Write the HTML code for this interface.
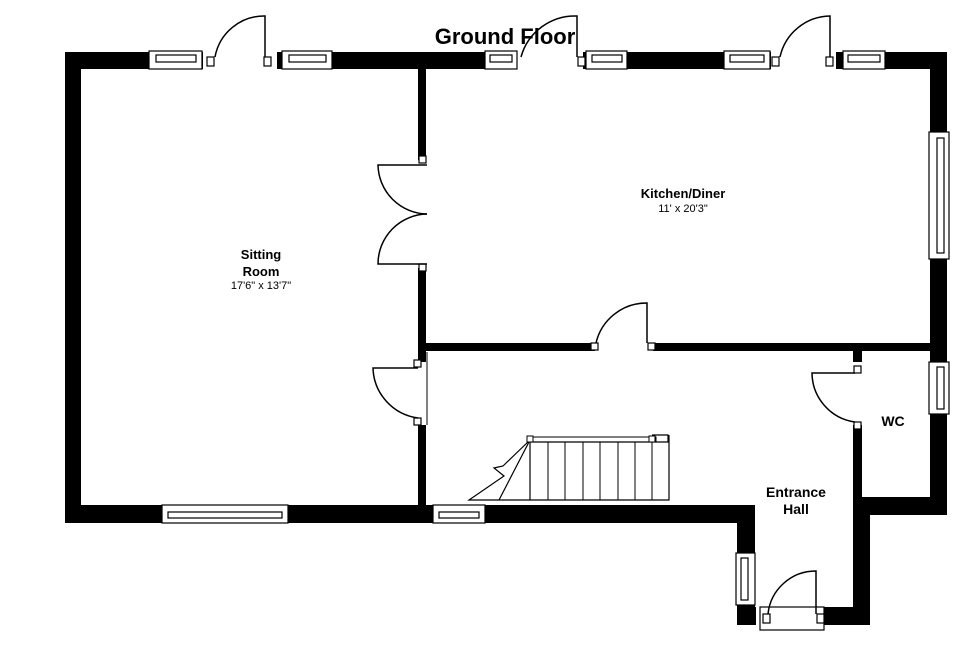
<!DOCTYPE html>
<html><head><meta charset="utf-8"><style>
html,body{margin:0;padding:0;background:#fff;width:969px;height:653px;overflow:hidden}
svg{display:block}
text{font-family:"Liberation Sans",Arial,sans-serif;fill:#000}
</style></head><body>
<svg width="969" height="653" viewBox="0 0 969 653" xmlns="http://www.w3.org/2000/svg">
<g fill="#000">
<rect x="65" y="52" width="882" height="17"/>
<rect x="65" y="52" width="16" height="471"/>
<rect x="65" y="505" width="690" height="18"/>
<rect x="930" y="52" width="17" height="463"/>
<rect x="853" y="497" width="94" height="18"/>
<rect x="853" y="497" width="17" height="128"/>
<rect x="853" y="350" width="9" height="150"/>
<rect x="737" y="505" width="18" height="120"/>
<rect x="737" y="607" width="133" height="18"/>
<rect x="418" y="69" width="8" height="454"/>
<rect x="426" y="343" width="504" height="8"/>
</g>
<g fill="#fff" stroke="#000" stroke-width="1.2">
<rect x="203" y="51" width="74" height="19" stroke="none"/>
<rect x="517" y="51" width="66" height="19" stroke="none"/>
<rect x="771" y="51" width="65" height="19" stroke="none"/>
<rect x="417" y="160" width="10" height="108" stroke="none"/>
<rect x="417" y="362" width="10" height="63" stroke="none"/>
<rect x="595" y="342" width="58" height="10" stroke="none"/>
<rect x="852" y="362" width="11" height="63" stroke="none"/>
<rect x="756" y="606" width="68" height="20" stroke="none"/>
<rect x="149" y="51" width="53" height="18"/><rect x="156" y="55" width="40" height="7"/>
<rect x="282" y="51" width="50" height="18"/><rect x="289" y="55" width="37" height="7"/>
<rect x="485" y="51" width="32" height="18"/><rect x="490" y="55" width="22" height="7"/>
<rect x="586" y="51" width="41" height="18"/><rect x="592" y="55" width="30" height="7"/>
<rect x="724" y="51" width="46" height="18"/><rect x="730" y="55" width="34" height="7"/>
<rect x="843" y="51" width="42" height="18"/><rect x="848" y="55" width="32" height="7"/>
<rect x="929" y="132" width="20" height="127"/><rect x="937" y="138" width="7" height="115"/>
<rect x="929" y="362" width="20" height="52"/><rect x="937" y="367" width="7" height="42"/>
<rect x="162" y="505" width="126" height="18"/><rect x="168" y="512" width="114" height="6"/>
<rect x="433" y="505" width="52" height="18"/><rect x="439" y="512" width="40" height="6"/>
<rect x="736" y="553" width="19" height="52"/><rect x="741" y="558" width="7" height="42"/>
<rect x="760" y="607" width="64" height="23"/>
<rect x="207" y="57" width="7" height="9"/><rect x="264" y="57" width="7" height="9"/>
<rect x="578" y="57" width="7" height="9"/><rect x="826" y="57" width="7" height="9"/><rect x="772" y="57" width="7" height="9"/>
<rect x="419" y="156" width="7" height="7"/><rect x="419" y="264" width="7" height="7"/>
<rect x="414" y="360" width="7" height="7"/><rect x="414" y="418" width="7" height="7"/>
<rect x="591" y="343" width="7" height="7"/><rect x="648" y="343" width="7" height="7"/>
<rect x="854" y="366" width="7" height="7"/><rect x="854" y="422" width="7" height="7"/>
<rect x="763" y="614" width="7" height="9"/><rect x="817" y="614" width="7" height="9"/>
</g>
<g fill="none" stroke="#000" stroke-width="1.5">
<path d="M265 57 V16 A50 50 0 0 0 215 57"/>
<path d="M577 57 V16 A56 56 0 0 0 521 57"/>
<path d="M830 57 V16 A52 52 0 0 0 780 57"/>
<path d="M427 165 H378 A50 50 0 0 0 427 214"/>
<path d="M427 264 H378 A50 50 0 0 1 427 214"/>
<path d="M418 368 H373 A52 52 0 0 0 418 418"/>
<path d="M647 343 V303 A52 52 0 0 0 596 343"/>
<path d="M855 373 H812 A50 50 0 0 0 855 422"/>
<path d="M816 614 V571 A48 48 0 0 0 768 614"/>
<path d="M530 442 H668 V435 H652 M530 442 V500 H669 V435" stroke-width="1.2"/>
<path d="M530 437 H656 V442" stroke-width="1"/>
<path d="M548 442V500M565 442V500M583 442V500M600 442V500M618 442V500M635 442V500M652 442V500" stroke-width="1"/>
<path d="M530 440 L499 500 M530 440 L503 466 L494 468 L504 476 L469 500 H530" stroke-width="1.2"/>
<line x1="427" y1="352" x2="427" y2="425" stroke-width="1"/>
</g>
<g fill="#fff" stroke="#000" stroke-width="1"><rect x="527" y="436" width="6" height="6"/><rect x="649" y="436" width="6" height="6"/></g>
<text x="505" y="44" font-size="22" font-weight="bold" text-anchor="middle">Ground Floor</text>
<text x="683" y="198" font-size="13" font-weight="bold" text-anchor="middle">Kitchen/Diner</text>
<text x="683" y="212" font-size="11" text-anchor="middle">11' x 20'3"</text>
<text x="261" y="259" font-size="13" font-weight="bold" text-anchor="middle">Sitting</text>
<text x="261" y="276" font-size="13" font-weight="bold" text-anchor="middle">Room</text>
<text x="261" y="289" font-size="11" text-anchor="middle">17'6" x 13'7"</text>
<text x="893" y="426" font-size="14" font-weight="bold" text-anchor="middle">WC</text>
<text x="796" y="497" font-size="14" font-weight="bold" text-anchor="middle">Entrance</text>
<text x="796" y="514" font-size="14" font-weight="bold" text-anchor="middle">Hall</text>
</svg>
</body></html>
